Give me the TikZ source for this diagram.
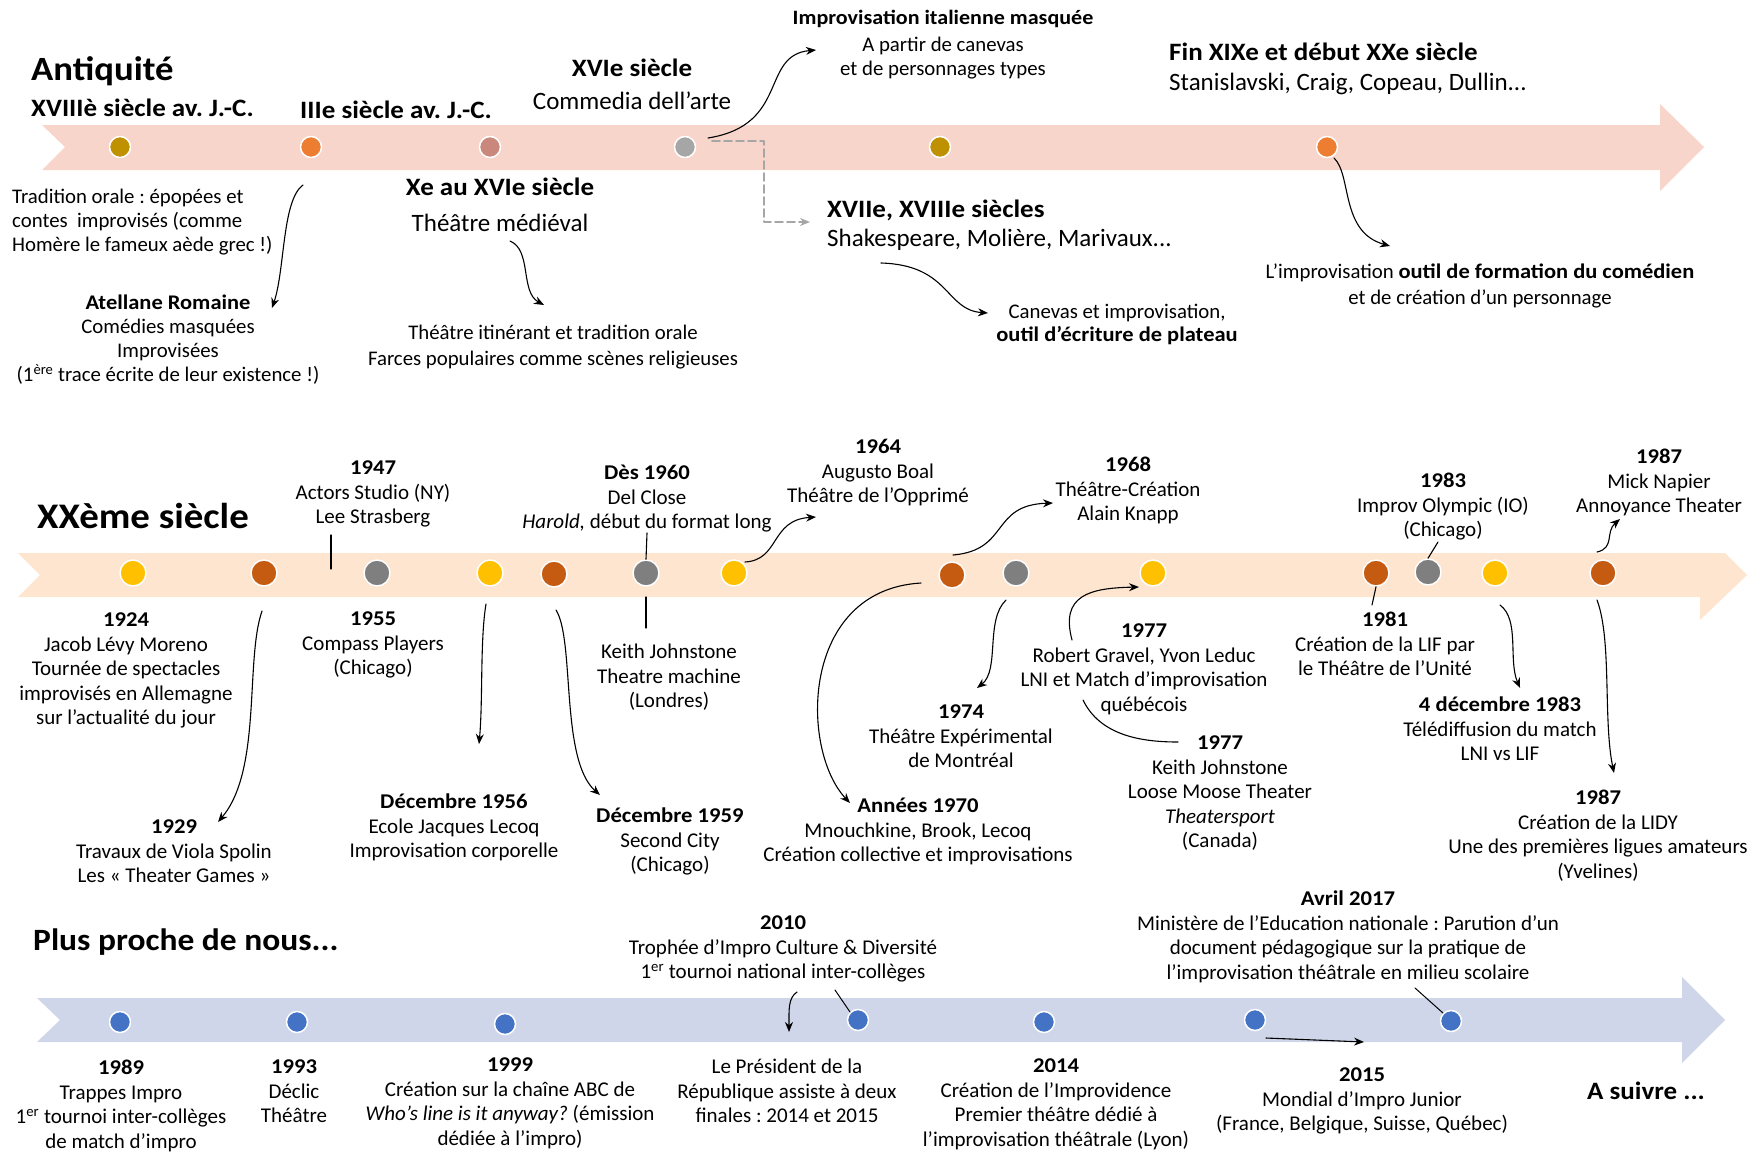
\documentclass[tikz,border=0pt]{standalone}
\usepackage{fontspec}
\setmainfont{Carlito}[BoldFeatures={FakeStretch=1.08}]
\usetikzlibrary{arrows.meta}
\frenchspacing
\definecolor{bandA}{HTML}{F8D5CA}
\definecolor{bandB}{HTML}{FDE5CF}
\definecolor{bandC}{HTML}{CFD6EA}
\definecolor{goldA}{HTML}{BF9000}
\definecolor{orangeA}{HTML}{ED7D31}
\definecolor{roseA}{HTML}{C9887B}
\definecolor{greyA}{HTML}{A6A6A6}
\definecolor{yellowB}{HTML}{FFC000}
\definecolor{rustB}{HTML}{C55A11}
\definecolor{greyB}{HTML}{7F7F7F}
\definecolor{blueC}{HTML}{4472C4}
\begin{document}
\begin{tikzpicture}[x=1pt, y=-1pt, line cap=round, line join=round, >={Stealth[length=10pt,width=8pt]}]
	\tikzset{bodytxt/.style={font=\fontsize{21}{24.5}\selectfont, align=center, inner sep=0pt, anchor=north},
		smalltxt/.style={font=\fontsize{20.8}{24}\selectfont, align=center, inner sep=0pt, anchor=north},
		headtxt/.style={font=\fontsize{25}{30}\selectfont\bfseries, inner sep=0pt},
		subtxt/.style={font=\fontsize{25}{30}\selectfont, inner sep=0pt},
		bigtitle/.style={font=\fontsize{34}{40}\selectfont\bfseries, inner sep=0pt, anchor=north west},
		dotA/.style={circle, draw=white, line width=1.5pt, minimum size=21pt, inner sep=0pt},
		dotB/.style={dotA, minimum size=26pt},
		dotC/.style={dotA, minimum size=21pt},
		linkarrow/.style={->, line width=1.1pt},
		tickline/.style={line width=1.1pt}}
	\useasboundingbox (0,0) rectangle (1758,1152);
	% bands
	\fill[bandA] (42,125)--(1660,125)--(1660,104)--(1704,147)--(1660,191)--(1660,170)--(42,170)--(65,147)--cycle;
	\fill[bandB] (18,553)--(1725,553)--(1747,575)--(1700,620)--(1700,597)--(18,597)--(40,575)--cycle;
	\fill[bandC] (37,998)--(1682,998)--(1682,977)--(1725,1020)--(1682,1063)--(1682,1042)--(37,1042)--(60,1020)--cycle;

	% Antiquite
	\node[bigtitle] (antiq) at (31,56) {Antiquité};
	\node[headtxt, anchor=north west] (h18) at (31,99) {XVIIIè siècle av. J.-C.};
	\node[headtxt, anchor=north west] (h3) at (300,101) {IIIe siècle av. J.-C.};
	\node[headtxt, anchor=north] (h16) at (632,59) {XVIe siècle};
	\node[subtxt, anchor=north] (commedia) at (632,92) {Commedia dell'arte};
	\node[headtxt, anchor=north, font=\fontsize{20.4}{24}\selectfont\bfseries] (masque) at (943,10) {Improvisation italienne masquée};
	\node[smalltxt] (canevasA) at (943,37) {A partir de canevas\\et de personnages types};
	\node[headtxt, anchor=north west] (h19) at (1169,43) {Fin XIXe et début XXe siècle};
	\node[subtxt, anchor=north west] (stan) at (1169,73) {Stanislavski, Craig, Copeau, Dullin...};
	\node[smalltxt, anchor=north west, align=left] (orale) at (12,189) {Tradition orale : épopées et\\contes ~improvisés (comme\\Homère le fameux aède grec !)};
	\node[smalltxt] (atel) at (168,295) {\textbf{Atellane Romaine}\\Comédies masquées\\Improvisées\\(1\textsuperscript{ère} trace écrite de leur existence !)};
	\node[headtxt, anchor=north] (h10) at (500,178) {Xe au XVIe siècle};
	\node[subtxt, anchor=north] (medieval) at (500,214) {Théâtre médiéval};
	\node[smalltxt, font=\fontsize{20.8}{26}\selectfont] (farces) at (553,325) {Théâtre itinérant et tradition orale\\Farces populaires comme scènes religieuses};
	\node[headtxt, anchor=north west] (h17) at (827,200) {XVIIe, XVIIIe siècles};
	\node[subtxt, anchor=north west] (shak) at (827,229) {Shakespeare, Molière, Marivaux...};
	\node[smalltxt, font=\fontsize{20.8}{23}\selectfont] (plateau) at (1117,304) {Canevas et improvisation,\\\textbf{outil d’écriture de plateau}};
	\node[smalltxt, font=\fontsize{20.8}{26}\selectfont] (formation) at (1480,264) {L’improvisation \textbf{outil de formation du comédien}\\et de création d’un personnage};

	\node[dotA, fill=goldA] (a1) at (120,147) {};
	\node[dotA, fill=orangeA] (a2) at (311,147) {};
	\node[dotA, fill=roseA] (a3) at (490,147) {};
	\node[dotA, fill=greyA] (a4) at (685,147) {};
	\node[dotA, fill=goldA] (a5) at (940,147) {};
	\node[dotA, fill=orangeA] (a6) at (1327,147) {};

	\coordinate (atelS) at (303,185); \coordinate (atelE) at (272,308);
	\coordinate (medS) at (510,241); \coordinate (medE) at (544,305);
	\coordinate (comS) at (708,138); \coordinate (comE) at (816,50);
	\coordinate (dashS) at (712,141); \coordinate (dashE) at (810,222);
	\coordinate (shakS) at (881,263); \coordinate (shakE) at (988,313);
	\coordinate (finS) at (1334,158); \coordinate (finE) at (1390,246);
	\draw[linkarrow] (atelS) .. controls (282,200) and (285,270) .. (atelE);
	\draw[linkarrow] (medS) .. controls (532,250) and (520,292) .. (medE);
	\draw[linkarrow] (comS) .. controls (790,125) and (760,55) .. (comE);
	\draw[linkarrow, greyA, line width=1.6pt, dash pattern=on 8pt off 4pt] (dashS) -| (764,222) -- (dashE);
	\draw[linkarrow] (shakS) .. controls (950,265) and (945,310) .. (shakE);
	\draw[linkarrow] (finS) .. controls (1352,175) and (1340,232) .. (finE);

	% XXeme siecle
	\node[bigtitle, font=\fontsize{36}{42}\selectfont\bfseries] (xx) at (37,503) {XXème siècle};
	\node[bodytxt] (n1947) at (373,461) {\textbf{1947}\\Actors Studio (NY)\\Lee Strasberg};
	\node[bodytxt] (n1960) at (647,465) {\textbf{Dès 1960}\\Del Close\\\textit{Harold,} début du format long};
	\node[bodytxt] (nKJ) at (669,644) {Keith Johnstone\\Theatre machine\\(Londres)};
	\node[bodytxt] (n1964) at (878,439) {\textbf{1964}\\Augusto Boal\\Théâtre de l’Opprimé};
	\node[bodytxt] (n1968) at (1128,457) {\textbf{1968}\\Théâtre-Création\\Alain Knapp};
	\node[bodytxt] (n1983a) at (1443,473) {\textbf{1983}\\Improv Olympic (IO)\\(Chicago)};
	\node[bodytxt] (n1987a) at (1659,449) {\textbf{1987}\\Mick Napier\\Annoyance Theater};
	\node[bodytxt] (n1924) at (126,613) {\textbf{1924}\\Jacob Lévy Moreno\\Tournée de spectacles\\improvisés en Allemagne\\sur l’actualité du jour};
	\node[bodytxt] (n1929) at (174,820) {\textbf{1929}\\Travaux de Viola Spolin\\Les « Theater Games »};
	\node[bodytxt] (n1955) at (373,612) {\textbf{1955}\\Compass Players\\(Chicago)};
	\node[bodytxt] (n1956) at (454,794) {\textbf{Décembre 1956}\\Ecole Jacques Lecoq\\Improvisation corporelle};
	\node[bodytxt] (n1959) at (670,808) {\textbf{Décembre 1959}\\Second City\\(Chicago)};
	\node[bodytxt] (n1970) at (918,798) {\textbf{Années 1970}\\Mnouchkine, Brook, Lecoq\\Création collective et improvisations};
	\node[bodytxt] (n1974) at (961,705) {\textbf{1974}\\Théâtre Expérimental\\de Montréal};
	\node[bodytxt] (n1977a) at (1144,624) {\textbf{1977}\\Robert Gravel, Yvon Leduc\\LNI et Match d’improvisation\\québécois};
	\node[bodytxt] (n1977b) at (1220,736) {\textbf{1977}\\Keith Johnstone\\Loose Moose Theater\\\textit{Theatersport}\\(Canada)};
	\node[bodytxt] (n1981) at (1385,612) {\textbf{1981}\\Création de la LIF par\\le Théâtre de l’Unité};
	\node[bodytxt] (n1983b) at (1500,697) {\textbf{4 décembre 1983}\\Télédiffusion du match\\LNI vs LIF};
	\node[bodytxt] (n1987b) at (1598,790) {\textbf{1987}\\Création de la LIDY\\Une des premières ligues amateurs\\(Yvelines)};

	\node[dotB, fill=yellowB] (b1) at (133,573) {};
	\node[dotB, fill=rustB] (b2) at (264,573) {};
	\node[dotB, fill=greyB] (b3) at (377,573) {};
	\node[dotB, fill=yellowB] (b4) at (490,573) {};
	\node[dotB, fill=rustB] (b5) at (554,574) {};
	\node[dotB, fill=greyB] (b6) at (646,573) {};
	\node[dotB, fill=yellowB] (b7) at (734,573) {};
	\node[dotB, fill=rustB] (b8) at (952,575) {};
	\node[dotB, fill=greyB] (b9) at (1016,573) {};
	\node[dotB, fill=yellowB] (b10) at (1153,573) {};
	\node[dotB, fill=rustB] (b11) at (1376,573) {};
	\node[dotB, fill=greyB] (b12) at (1428,572) {};
	\node[dotB, fill=yellowB] (b13) at (1495,573) {};
	\node[dotB, fill=rustB] (b14) at (1603,573) {};

	\draw[tickline] (331,535) -- (331,569);
	\draw[tickline] (b6.north) -- (647,533);
	\draw[tickline] (646,597) -- (646,628);
	\draw[tickline] (b12.north) -- (1438,542);
	\draw[tickline] (b11.south) -- (1372,605);

	\coordinate (s1929) at (262,611); \coordinate (e1929) at (218,822);
	\coordinate (s1956) at (486,604); \coordinate (e1956) at (479,744);
	\coordinate (s1959) at (556,610); \coordinate (e1959) at (600,795);
	\coordinate (s1964) at (745,562); \coordinate (e1964) at (816,517);
	\coordinate (s1968) at (953,555); \coordinate (e1968) at (1053,503);
	\coordinate (s1970) at (921,583); \coordinate (e1970) at (850,803);
	\coordinate (s1974) at (1006,600); \coordinate (e1974) at (977,688);
	\coordinate (s1977) at (1072,640); \coordinate (e1977) at (1139,587);
	\coordinate (sMoose) at (1083,700); \coordinate (eMoose) at (1178,742);
	\coordinate (s1983) at (1500,605); \coordinate (e1983) at (1520,688);
	\coordinate (sLidy) at (1597,600); \coordinate (eLidy) at (1614,773);
	\coordinate (sNap) at (1597,552); \coordinate (eNap) at (1620,519);
	\draw[linkarrow] (s1929) .. controls (245,660) and (262,770) .. (e1929);
	\draw[linkarrow] (s1956) .. controls (480,640) and (483,700) .. (e1956);
	\draw[linkarrow] (s1959) .. controls (575,640) and (560,760) .. (e1959);
	\draw[linkarrow] (s1964) .. controls (780,560) and (770,520) .. (e1964);
	\draw[linkarrow] (s1968) .. controls (1010,550) and (990,505) .. (e1968);
	\draw[linkarrow] (s1970) .. controls (800,590) and (800,750) .. (e1970);
	\draw[linkarrow] (s1974) .. controls (985,620) and (1000,670) .. (e1974);
	\draw[linkarrow] (s1977) .. controls (1060,595) and (1090,588) .. (e1977);
	\draw[line width=1.1pt] (sMoose) .. controls (1100,735) and (1140,742) .. (eMoose);
	\draw[linkarrow] (s1983) .. controls (1520,620) and (1508,660) .. (e1983);
	\draw[linkarrow] (sLidy) .. controls (1612,640) and (1603,720) .. (eLidy);
	\draw[linkarrow] (sNap) .. controls (1615,548) and (1605,532) .. (eNap);

	% plus proche de nous
	\node[bigtitle, font=\fontsize{31}{36}\selectfont\bfseries] (proche) at (33,929) {Plus proche de nous...};
	\node[bodytxt] (n2010) at (783,916) {\textbf{2010}\\Trophée d’Impro Culture \& Diversité\\1\textsuperscript{er} tournoi national inter-collèges};
	\node[bodytxt] (n2017) at (1348,891) {\textbf{Avril 2017}\\Ministère de l’Education nationale : Parution d’un\\document pédagogique sur la pratique de\\l’improvisation théâtrale en milieu scolaire};
	\node[bodytxt] (n1989) at (121,1060) {\textbf{1989}\\Trappes Impro\\1\textsuperscript{er} tournoi inter-collèges\\de match d’impro};
	\node[bodytxt] (n1993) at (294,1060) {\textbf{1993}\\Déclic\\Théâtre};
	\node[bodytxt] (n1999) at (510,1058) {\textbf{1999}\\Création sur la chaîne ABC de\\\textit{Who’s line is it anyway?} (émission\\dédiée à l’impro)};
	\node[bodytxt] (npres) at (787,1059) {Le Président de la\\République assiste à deux\\finales : 2014 et 2015};
	\node[bodytxt] (n2014) at (1056,1059) {\textbf{2014}\\Création de l’Improvidence\\Premier théâtre dédié à\\l’improvisation théâtrale (Lyon)};
	\node[bodytxt] (n2015) at (1362,1068) {\textbf{2015}\\Mondial d’Impro Junior\\(France, Belgique, Suisse, Québec)};
	\node[headtxt, anchor=north west] (suivre) at (1587,1082) {A suivre ...};

	\node[dotC, fill=blueC] (c1) at (120,1022) {};
	\node[dotC, fill=blueC] (c2) at (297,1022) {};
	\node[dotC, fill=blueC] (c3) at (505,1024) {};
	\node[dotC, fill=blueC] (c4) at (858,1020) {};
	\node[dotC, fill=blueC] (c5) at (1044,1022) {};
	\node[dotC, fill=blueC] (c6) at (1255,1020) {};
	\node[dotC, fill=blueC] (c7) at (1451,1021) {};

	\coordinate (s2010) at (797,992); \coordinate (ePres) at (789,1032);
	\coordinate (t2010) at (835,990);
	\coordinate (s2015) at (1266,1038); \coordinate (e2015) at (1364,1042);
	\coordinate (t2017) at (1415,988);
	\draw[linkarrow] (s2010) .. controls (788,998) and (789,1010) .. (ePres);
	\draw[line width=1pt] (t2010) -- (c4.north west);
	\draw[linkarrow] (s2015) -- (e2015);
	\draw[line width=1pt] (t2017) -- (c7.north west);
\end{tikzpicture}
\end{document}
